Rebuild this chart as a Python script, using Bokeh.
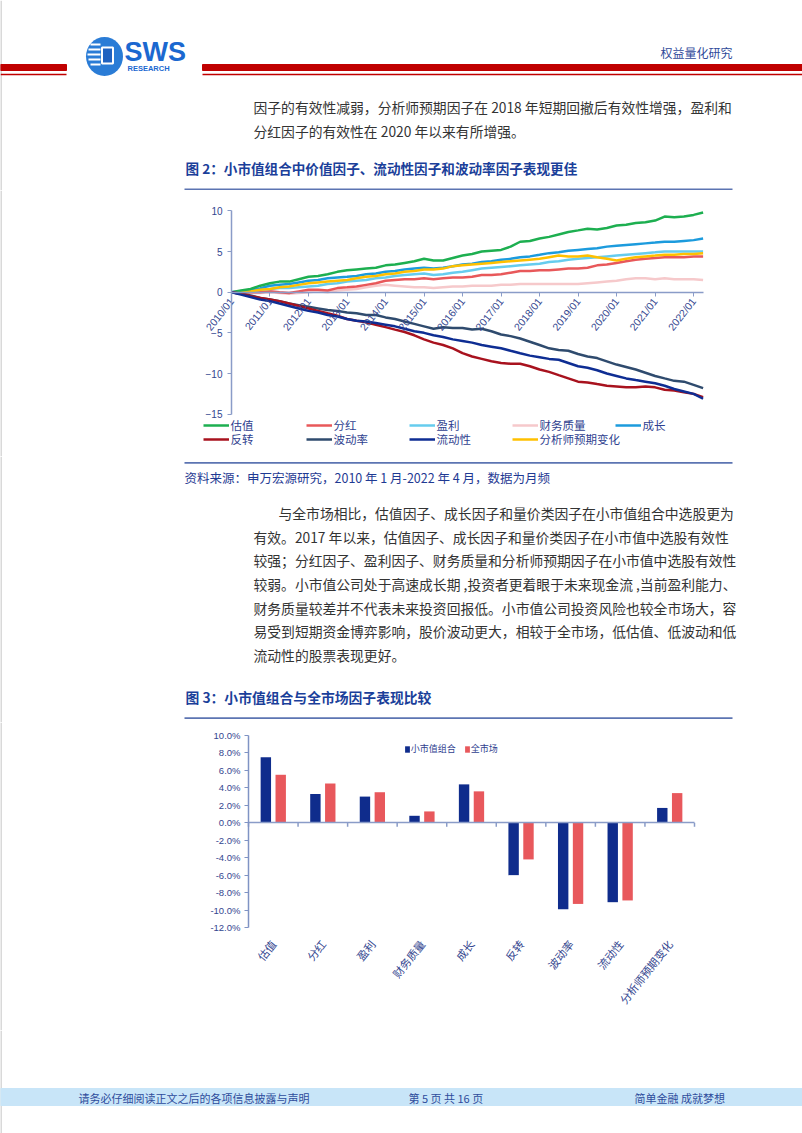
import math
import pandas as pd
from bokeh.plotting import figure
from bokeh.layouts import column
from bokeh.models import (Range1d, LinearAxis, DatetimeAxis, FixedTicker,
                          DatetimeTickFormatter, PrintfTickFormatter, Legend, LegendItem,
                          ColumnDataSource)
from bokeh.transform import dodge
from bokeh.core.properties import value
from bokeh.embed import file_html
from bokeh.resources import INLINE

# ------------------------------------------------------------------ data
# Figure 2: cumulative factor performance in the small-cap portfolio (sampled quarterly)
dates = pd.date_range("2010-01-01", "2022-04-01", freq="QS")
line_names = ["估值", "分红", "盈利", "财务质量", "成长", "反转", "波动率", "流动性", "分析师预期变化"]
valuation = [0.0, 0.2, 0.4, 0.8, 1.1, 1.3, 1.3, 1.6, 1.9, 2.0, 2.2, 2.5, 2.7, 2.8, 2.9, 3.0,
             3.3, 3.4, 3.6, 3.8, 4.1, 3.9, 3.9, 4.2, 4.5, 4.7, 5.0, 5.1, 5.2, 5.6, 6.2, 6.3,
             6.6, 6.8, 7.1, 7.4, 7.6, 7.8, 7.7, 7.9, 8.2, 8.3, 8.5, 8.6, 8.8, 9.3, 9.2, 9.3,
             9.5, 9.8]
dividend = [0.0, -0.1, 0.0, 0.0, 0.1, 0.0, -0.1, 0.1, 0.3, 0.3, 0.2, 0.5, 0.6, 0.7, 0.9, 1.1,
            1.4, 1.5, 1.6, 1.6, 1.7, 1.6, 1.7, 1.8, 1.8, 1.9, 2.1, 2.1, 2.2, 2.4, 2.6, 2.6,
            2.7, 2.7, 2.8, 2.9, 2.9, 3.0, 3.3, 3.4, 3.6, 3.8, 4.0, 4.1, 4.2, 4.3, 4.3, 4.3,
            4.4, 4.4]
profit = [0.0, 0.0, 0.1, 0.3, 0.4, 0.5, 0.5, 0.6, 0.7, 0.8, 1.0, 1.1, 1.3, 1.4, 1.5, 1.7,
          1.8, 2.0, 2.1, 2.2, 2.3, 2.1, 2.2, 2.4, 2.5, 2.7, 2.9, 3.0, 3.1, 3.2, 3.3, 3.4,
          3.5, 3.7, 3.8, 4.0, 4.1, 4.2, 4.3, 4.4, 4.5, 4.6, 4.7, 4.8, 4.9, 5.0, 5.0, 5.0,
          5.0, 5.0]
quality = [0.0, 0.0, -0.1, -0.1, 0.0, -0.1, -0.2, -0.1, 0.0, 0.1, 0.0, 0.2, 0.3, 0.4, 0.6, 0.8,
           0.9, 0.8, 0.7, 0.6, 0.6, 0.5, 0.6, 0.7, 0.7, 0.8, 0.8, 0.8, 0.9, 0.9, 1.0, 1.0,
           1.0, 1.0, 1.0, 1.0, 1.0, 1.1, 1.2, 1.3, 1.4, 1.6, 1.7, 1.7, 1.6, 1.7, 1.6, 1.6,
           1.6, 1.5]
growth = [0.0, 0.1, 0.3, 0.5, 0.8, 0.9, 1.0, 1.2, 1.4, 1.5, 1.7, 1.8, 1.9, 2.0, 2.2, 2.3,
          2.5, 2.6, 2.8, 2.9, 3.0, 2.9, 3.0, 3.2, 3.4, 3.5, 3.7, 3.8, 4.0, 4.1, 4.3, 4.4,
          4.6, 4.8, 4.9, 5.1, 5.2, 5.3, 5.4, 5.6, 5.7, 5.8, 5.9, 6.0, 6.1, 6.2, 6.2, 6.3,
          6.4, 6.6]
reversal = [0.0, -0.2, -0.5, -0.7, -0.9, -1.1, -1.4, -1.7, -2.0, -2.3, -2.6, -2.9, -3.3, -3.5, -3.7, -4.0,
            -4.3, -4.6, -4.9, -5.3, -5.8, -6.2, -6.5, -6.9, -7.5, -7.9, -8.2, -8.5, -8.7, -8.8, -8.8, -9.1,
            -9.5, -9.8, -10.2, -10.6, -11.0, -11.1, -11.3, -11.5, -11.6, -11.7, -11.7, -11.6, -11.7, -12.0,
            -12.1, -12.3, -12.5, -12.9]
volatility = [0.0, -0.2, -0.4, -0.7, -0.9, -1.1, -1.4, -1.6, -1.8, -2.0, -2.2, -2.3, -2.5, -2.6, -2.8, -2.8,
              -3.1, -3.3, -3.6, -3.9, -4.2, -4.5, -4.3, -4.4, -4.4, -4.6, -4.5, -4.8, -5.2, -5.4, -5.7, -6.1,
              -6.5, -6.9, -7.1, -7.2, -7.6, -7.9, -8.1, -8.5, -8.9, -9.2, -9.5, -9.9, -10.3, -10.6,
              -10.9, -11.0, -11.4, -11.8]
liquidity = [0.0, -0.3, -0.6, -0.9, -1.1, -1.4, -1.7, -2.0, -2.3, -2.5, -2.8, -3.0, -3.3, -3.5, -3.6, -3.8,
             -4.0, -4.2, -4.5, -4.8, -5.0, -5.3, -5.5, -5.8, -6.0, -6.2, -6.5, -6.7, -6.9, -7.2, -7.5, -7.8,
             -8.0, -8.2, -8.3, -8.7, -9.1, -9.3, -9.6, -10.0, -10.3, -10.6, -10.8, -11.0, -11.2, -11.5,
             -11.9, -12.2, -12.5, -13.1]
analyst = [0.0, 0.0, 0.1, 0.3, 0.4, 0.6, 0.7, 0.9, 1.1, 1.2, 1.3, 1.4, 1.5, 1.7, 1.9, 2.0,
           2.2, 2.3, 2.5, 2.6, 2.8, 2.8, 2.9, 3.2, 3.3, 3.4, 3.5, 3.6, 3.7, 3.8, 3.9, 4.0,
           4.1, 4.3, 4.5, 4.4, 4.4, 4.5, 4.3, 4.1, 3.9, 4.1, 4.3, 4.4, 4.5, 4.6, 4.6, 4.7,
           4.7, 4.8]
line_y_ticks = [-15, -10, -5, 0, 5, 10]
line_x_tick_years = list(range(2010, 2023))

# Figure 3: small-cap portfolio vs whole market (%)
bar_cats = ["估值", "分红", "盈利", "财务质量", "成长", "反转", "波动率", "流动性", "分析师预期变化"]
small_cap = [7.5, 3.3, 3.0, 0.8, 4.4, -6.0, -9.9, -9.1, 1.7]
whole_mkt = [5.5, 4.5, 3.5, 1.3, 3.6, -4.2, -9.3, -8.9, 3.4]
bar_series = ["小市值组合", "全市场"]
bar_y_ticks = [-12, -10, -8, -6, -4, -2, 0, 2, 4, 6, 8, 10]

# page texts
header_right = "权益量化研究"
para1 = ["因子的有效性减弱，分析师预期因子在 2018 年短期回撤后有效性增强，盈利和",
         "分红因子的有效性在 2020 年以来有所增强。"]
title2 = "图 2：小市值组合中价值因子、流动性因子和波动率因子表现更佳"
source2 = "资料来源：申万宏源研究，2010 年 1 月-2022 年 4 月，数据为月频"
para2 = ["与全市场相比，估值因子、成长因子和量价类因子在小市值组合中选股更为",
         "有效。2017  年以来，估值因子、成长因子和量价类因子在小市值中选股有效性",
         "较强；分红因子、盈利因子、财务质量和分析师预期因子在小市值中选股有效性",
         "较弱。小市值公司处于高速成长期 ,投资者更着眼于未来现金流 ,当前盈利能力、",
         "财务质量较差并不代表未来投资回报低。小市值公司投资风险也较全市场大，容",
         "易受到短期资金博弈影响，股价波动更大，相较于全市场，低估值、低波动和低",
         "流动性的股票表现更好。"]
title3 = "图 3：小市值组合与全市场因子表现比较"
footer_texts = ["请务必仔细阅读正文之后的各项信息披露与声明", "第 5 页 共 16 页", "简单金融 成就梦想"]

# ------------------------------------------------------------------ styles / layout
W = 802
CJK = "Noto Sans CJK SC"
LAT = "Liberation Sans"
RED = "#C00000"
RULE = "#5C74B2"
TITLE_C = "#1B3F9A"
BODY_C = "#333333"
AX_TXT = "#33468F"
AX_LINE = "#8A9CC8"
EDGE = "#B4B4B4"
line_colors = {"估值": "#1DAF50", "分红": "#E8585A", "盈利": "#66CCEE", "财务质量": "#F6C9CB",
               "成长": "#1C9BDD", "反转": "#A8121E", "波动率": "#2F4B6E", "流动性": "#0E2D93",
               "分析师预期变化": "#FFC000"}
BLUE_BAR = "#0F2C8C"
RED_BAR = "#E8585C"


def base_fig(h, xr, yr):
    f = figure(width=W, height=h, x_range=xr, y_range=yr, x_axis_type=None, y_axis_type=None,
               output_backend="svg", toolbar_location=None, min_border=0)
    f.outline_line_color = None
    f.background_fill_color = "white"
    f.border_fill_color = "white"
    if "frame_align" in f.properties():
        f.frame_align = False
    return f


def page_fig(h):
    f = base_fig(h, Range1d(0, W), Range1d(h, 0))
    f.segment(x0=[0.5], y0=[0], x1=[0.5], y1=[h], line_color=EDGE, line_width=1)
    return f


def txt(f, x, y, s, size, color, bold=False, font=CJK, align="left"):
    f.text(x=[x], y=[y], text=[s], text_font=value(font), text_font_size=f"{size}px",
           text_color=color, text_font_style="bold" if bold else "normal",
           text_baseline="middle", text_align=align)


def style_axis(ax, line_color, font, size, standoff):
    ax.axis_line_color = line_color
    ax.axis_line_width = 1.5
    ax.major_tick_line_color = line_color
    ax.major_tick_out = 4
    ax.major_tick_in = 0
    ax.minor_tick_line_color = None
    ax.major_label_text_font = font
    ax.major_label_text_font_size = size
    ax.major_label_text_color = AX_TXT
    ax.major_label_standoff = standoff


def style_legend(leg, size):
    leg.label_text_font = CJK
    leg.label_text_font_size = size
    leg.label_text_color = "#2F3F8F"
    leg.padding = 0
    leg.margin = 0
    leg.border_line_color = None
    leg.background_fill_alpha = 0


def span_range(v0, v1, p0, p1, total):
    """Range whose values v0, v1 land at pixels p0, p1 of a frame `total` pixels long."""
    k = (v1 - v0) / (p1 - p0)
    return v0 - p0 * k, v1 + (total - p1) * k


def page_edge(f, xr, yr):
    xe = xr[0] + 0.5 * (xr[1] - xr[0]) / W
    f.segment(x0=[xe], y0=[yr[0]], x1=[xe], y1=[yr[1]], line_color=EDGE, line_width=1)


# ------------------------------------------------------------------ top section (0-190)
top = page_fig(190)
top.quad(left=[0, 202], right=[66, 802], top=[64, 64], bottom=[70, 70], color=RED)
top.segment(x0=[0, 202], y0=[74, 74], x1=[66, 802], y1=[74, 74], line_color=RED, line_width=1.5)
# logo
top.ellipse(x=[104], y=[56], width=[37], height=[39], fill_color="#2A7CD6", line_color=None)
top.segment(x0=[90, 88, 87, 88, 90], y0=[44, 49, 54, 59, 64], x1=[100] * 5, y1=[44, 49, 54, 59, 64],
            line_color="white", line_width=2)
top.rect(x=[107], y=[55], width=[11], height=[16], fill_color="#1F62C0", line_color="white", line_width=2)
txt(top, 124, 51, "SWS", 27, "#1B68D0", bold=True, font=LAT)
txt(top, 127, 67.5, "RESEARCH", 7.5, "#1B68D0", bold=True, font=LAT)
txt(top, 660, 52, header_right, 12, "#2F4A9A")
for i, s in enumerate(para1):
    txt(top, 253, 106.7 + 23.5 * i, s, 13.8, BODY_C)
txt(top, 185, 167.3, title2, 13.6, TITLE_C, bold=True)
top.segment(x0=[184], y0=[189], x1=[732], y1=[189], line_color=RULE, line_width=1.8)

# ------------------------------------------------------------------ figure 2 (190-456)
x0_ms = dates[0].value / 1e6
x1_ms = dates[-1].value / 1e6
LC_H = 266
lxr = span_range(x0_ms, x1_ms, 231.0, 702.6, W)
lyr = (-20.2, 12.5)
lc = base_fig(LC_H, Range1d(*lxr), Range1d(*lyr))
page_edge(lc, lxr, lyr)

series = {"估值": valuation, "分红": dividend, "盈利": profit, "财务质量": quality, "成长": growth,
          "反转": reversal, "波动率": volatility, "流动性": liquidity, "分析师预期变化": analyst}
draw_order = ["财务质量", "分红", "盈利", "成长", "分析师预期变化", "估值", "波动率", "反转", "流动性"]
renderers = {}
for name in draw_order:
    src = ColumnDataSource(data=dict(x=dates, y=series[name]))
    renderers[name] = lc.line("x", "y", source=src, line_color=line_colors[name], line_width=2.5)

yax = LinearAxis(ticker=FixedTicker(ticks=line_y_ticks), bounds=(-15, 10), fixed_location=x0_ms)
style_axis(yax, AX_LINE, LAT, "10px", 5)
lc.add_layout(yax, "left")

tick_ms = [pd.Timestamp(f"{y}-01-01").value / 1e6 for y in line_x_tick_years]
fmt = "%Y/%m"
xax = DatetimeAxis(ticker=FixedTicker(ticks=tick_ms), fixed_location=0, bounds=(x0_ms, x1_ms),
                   formatter=DatetimeTickFormatter(years=fmt, months=fmt, days=fmt, hours=fmt,
                                                   hourmin=fmt, minutes=fmt, minsec=fmt, seconds=fmt,
                                                   milliseconds=fmt, microseconds=fmt))
style_axis(xax, AX_LINE, LAT, "10.5px", 3)
xax.major_label_orientation = 0.9
lc.add_layout(xax, "below")

for names, vy in [(line_names[:5], 23.3), (line_names[5:], 9.5)]:
    leg = Legend(items=[LegendItem(label=n, renderers=[renderers[n]]) for n in names],
                 orientation="horizontal", location=(203.4, vy))
    style_legend(leg, "11.5px")
    leg.glyph_width = 26
    leg.glyph_height = 14
    leg.label_height = 14
    leg.label_width = 73
    leg.label_standoff = 1
    leg.spacing = 3
    lc.add_layout(leg)

# ------------------------------------------------------------------ middle section (456-722)
mid = page_fig(266)
mid.segment(x0=[184], y0=[6.3], x1=[732], y1=[6.3], line_color=RULE, line_width=1.8)
txt(mid, 184, 20.7, source2, 12.5, "#1F3A93")
for i, s in enumerate(para2):
    txt(mid, 278 if i == 0 else 253, 56.7 + 23.6 * i, s, 13.8, BODY_C)
txt(mid, 185, 240.7, title3, 13.8, TITLE_C, bold=True)
mid.segment(x0=[184], y0=[261.7], x1=[732], y1=[261.7], line_color=RULE, line_width=1.8)

# ------------------------------------------------------------------ figure 3 (722-1030)
n_cat = len(bar_cats)
BC_H = 308
bxr = span_range(-0.5, n_cat - 0.5, 248.0, 694.0, W)
byr = span_range(-12.0, 10.0, BC_H - 205.0, BC_H - 13.0, BC_H)
bc = base_fig(BC_H, Range1d(*bxr), Range1d(*byr))
page_edge(bc, bxr, byr)

bsrc = ColumnDataSource(data=dict(pos=list(range(n_cat)), small=small_cap, whole=whole_mkt))
rb = bc.vbar(x=dodge("pos", -0.15), top="small", width=0.21, source=bsrc,
             fill_color=BLUE_BAR, line_color=None)
rr = bc.vbar(x=dodge("pos", 0.15), top="whole", width=0.21, source=bsrc,
             fill_color=RED_BAR, line_color=None)

byax = LinearAxis(ticker=FixedTicker(ticks=bar_y_ticks), formatter=PrintfTickFormatter(format="%.1f%%"),
                  fixed_location=-0.5, bounds=(-12, 10))
style_axis(byax, "#7F93C4", LAT, "9.5px", 4)
bc.add_layout(byax, "left")

# zero line (category axis line) with boundary tick marks
zax = LinearAxis(fixed_location=0, bounds=(-0.5, n_cat - 0.5), ticker=FixedTicker(ticks=[]))
style_axis(zax, AX_LINE, LAT, "10px", 0)
bc.add_layout(zax, "below")
bounds_pos = [i - 0.5 for i in range(n_cat + 1)]
bc.ray(x=bounds_pos, y=[0] * len(bounds_pos), length=4, length_units="screen",
       angle=-math.pi / 2, line_color=AX_LINE, line_width=1.5)

# category labels at the bottom of the chart
cax = LinearAxis(ticker=FixedTicker(ticks=list(range(n_cat))), fixed_location=-12,
                 major_label_overrides={i: c for i, c in enumerate(bar_cats)})
style_axis(cax, AX_LINE, CJK, "11px", 10)
cax.axis_line_color = None
cax.major_tick_line_color = None
cax.major_label_orientation = 0.9
bc.add_layout(cax, "below")

bleg = Legend(items=[LegendItem(label=bar_series[0], renderers=[rb]),
                     LegendItem(label=bar_series[1], renderers=[rr])],
              orientation="horizontal", location=(403.8, BC_H - 33))
style_legend(bleg, "9px")
bleg.glyph_width = 6
bleg.glyph_height = 8
bleg.label_height = 8
bleg.label_standoff = 1
bleg.spacing = 8
bc.add_layout(bleg)

# ------------------------------------------------------------------ footer (1030-1133)
foot = page_fig(103)
foot.quad(left=[0], right=[802], top=[58], bottom=[75], color="#C8E5F8")
txt(foot, 78, 67, footer_texts[0], 11, "#2E4C9C")
txt(foot, 408, 67, footer_texts[1], 11, "#2E4C9C")
txt(foot, 634, 67, footer_texts[2], 11, "#2E4C9C")

page = column(top, lc, mid, bc, foot, spacing=0)
open("out.html", "w").write(file_html(page, INLINE))
